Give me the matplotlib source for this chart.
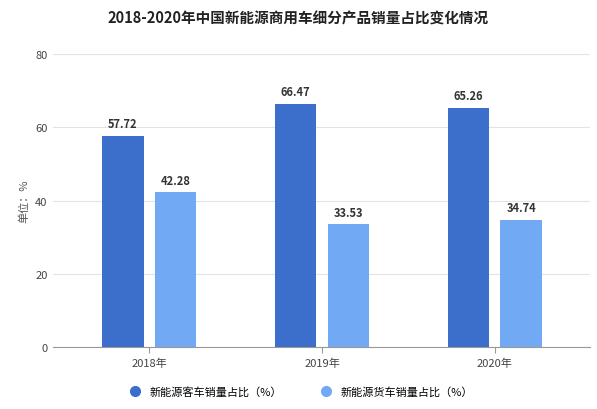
import numpy as np
import matplotlib.pyplot as plt
from matplotlib.lines import Line2D

plt.rcParams['font.family'] = ['Noto Sans CJK SC', 'DejaVu Sans']

YEARS = ["2018年", "2019年", "2020年"]
PASSENGER = [57.72, 66.47, 65.26]
CARGO = [42.28, 33.53, 34.74]
SERIES = ["新能源客车销量占比（%）", "新能源货车销量占比（%）"]
COLORS = ["#3b6fcb", "#72a9f4"]

fig = plt.figure(figsize=(5.97, 4.10), dpi=100)
ax = fig.add_axes([0.088, 0.151, 0.90, 0.715])

x = np.arange(len(YEARS))
w = 0.24
gap = 0.065
for vals, off, c in [(PASSENGER, -(w + gap) / 2, COLORS[0]), (CARGO, (w + gap) / 2, COLORS[1])]:
    bars = ax.bar(x + off, vals, w, color=c, zorder=3)
    for b, v in zip(bars, vals):
        ax.text(b.get_x() + b.get_width() / 2, v + 1.5, f"{v:.2f}",
                ha="center", va="bottom", fontsize=8, fontweight="bold", color="#333333")

ax.set_xlim(-0.56, 2.55)
ax.set_ylim(0, 80)
ax.set_yticks([0, 20, 40, 60, 80])
ax.set_xticks(x)
ax.set_xticklabels(YEARS)
ax.tick_params(axis="both", labelsize=8, colors="#444444", length=0)
ax.tick_params(axis="x", length=4, color="#999999")
ax.grid(axis="y", color="#e3e3e3", linewidth=0.8, zorder=0)
for s in ["top", "right", "left"]:
    ax.spines[s].set_visible(False)
ax.spines["bottom"].set_color("#999999")
ax.set_ylabel("单位：%", fontsize=8, color="#555555")

fig.suptitle("2018-2020年中国新能源商用车细分产品销量占比变化情况", fontsize=10.5,
             fontweight="bold", y=0.975, color="#222222")

handles = [Line2D([], [], marker="o", linestyle="", markersize=7, color=c) for c in COLORS]
fig.legend(handles, SERIES, loc="lower center", bbox_to_anchor=(0.5, 0.005), ncol=2,
           frameon=False, fontsize=8, handletextpad=0.3, columnspacing=3)

fig.savefig("out.png", dpi=100)
